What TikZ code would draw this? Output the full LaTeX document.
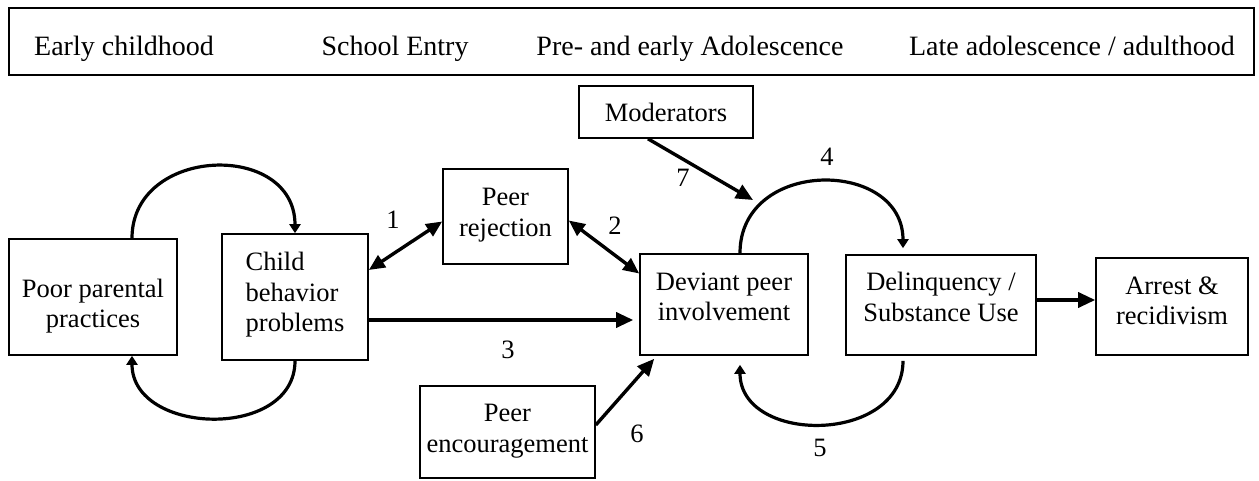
\documentclass[tikz,border=0pt]{standalone}
\usepackage{fontspec}
\setmainfont{Liberation Serif}
\usetikzlibrary{arrows.meta}

\tikzset{
  box/.style={draw, line width=1.6pt, inner sep=0pt, align=center},
  lift/.style={text height=#1, text depth=0pt},
  link/.style={line width=3.4pt, -{Triangle[length=17pt,width=15pt]}},
  twoway/.style={line width=3.4pt, {Triangle[length=16pt,width=14pt]}-{Triangle[length=16pt,width=14pt]}},
  feedback/.style={line width=3.2pt, -{Triangle[length=9pt,width=11pt]}},
}

\begin{document}
\begin{tikzpicture}[x=1pt,y=1pt,font=\fontsize{26.5}{30.5}\selectfont]
  \useasboundingbox (0,0) rectangle (1259,-481);

  % time line
  \node[box, minimum width=1245pt, minimum height=67pt] (band) at (631.5,-41.5) {};
  \begin{scope}[font=\fontsize{28}{32}\selectfont, anchor=base]
    \node (early)  at (124,-56) {Early childhood};
    \node (school) at (395,-56) {School Entry};
    \node (preado) at (690,-56) {Pre- and early Adolescence};
    \node (late)   at (1072,-56) {Late adolescence / adulthood};
  \end{scope}

  % boxes
  \node[box, lift=61pt, minimum width=168pt, minimum height=116pt] (poor) at (93,-297) {Poor parental\\practices};
  \node[box, lift=69pt, align=left, minimum width=146pt, minimum height=126pt] (child) at (295,-297) {Child\\behavior\\problems};
  \node[box, lift=40pt, minimum width=125pt, minimum height=95pt] (rej) at (505.5,-216.5) {Peer\\rejection};
  \node[box, minimum width=174pt, minimum height=52pt] (mod) at (666,-112) {Moderators};
  \node[box, lift=32pt, minimum width=168pt, minimum height=101pt] (dev) at (724,-304.5) {Deviant peer\\involvement};
  \node[box, lift=40pt, minimum width=175pt, minimum height=92pt] (enc) at (507.5,-432) {Peer\\encouragement};
  \node[box, lift=32pt, minimum width=190pt, minimum height=100pt] (del) at (941,-305) {Delinquency /\\Substance Use};
  \node[box, lift=36pt, minimum width=152pt, minimum height=97pt] (arr) at (1172,-306.5) {Arrest \&\\recidivism};

  % path numbers
  \node (n1) at (393,-220) {1};
  \node (n2) at (615,-226) {2};
  \node (n3) at (508,-350) {3};
  \node (n4) at (827,-157) {4};
  \node (n5) at (820,-448) {5};
  \node (n6) at (637,-434) {6};
  \node (n7) at (683,-178) {7};

  \coordinate (onloop) at (753,-200);

  % parent-child cycle
  \draw[feedback] ([xshift=39pt]poor.north) to[out=90,in=90,looseness=1.45] (child.north);
  \draw[feedback] (child.south) to[out=-90,in=-90,looseness=1.25] ([xshift=39pt]poor.south);

  % deviant peers - delinquency cycle
  \draw[feedback, shorten >=6pt] ([xshift=16pt]dev.north) to[out=90,in=90,looseness=1.5] ([xshift=-38pt]del.north);
  \draw[feedback, shorten <=5pt, shorten >=9pt] ([xshift=-38pt]del.south) to[out=-90,in=-90,looseness=1.4] ([xshift=16pt]dev.south);

  \draw[twoway] ([yshift=27pt]child.east) -- ([yshift=-5pt]rej.west);
  \draw[twoway] ([yshift=-4pt]rej.east) -- ([yshift=31pt]dev.west);
  \draw[link, shorten >=6pt] ([yshift=-23pt]child.east) -- ([yshift=-15.5pt]dev.west);
  \draw[link] ([xshift=-18pt]mod.south) -- (onloop);
  \draw[link] ([yshift=7pt]enc.east) -- ([xshift=15pt, yshift=-3pt]dev.south west);
  \draw[link] ([yshift=5pt]del.east) -- ([yshift=6.5pt]arr.west);
\end{tikzpicture}
\end{document}
